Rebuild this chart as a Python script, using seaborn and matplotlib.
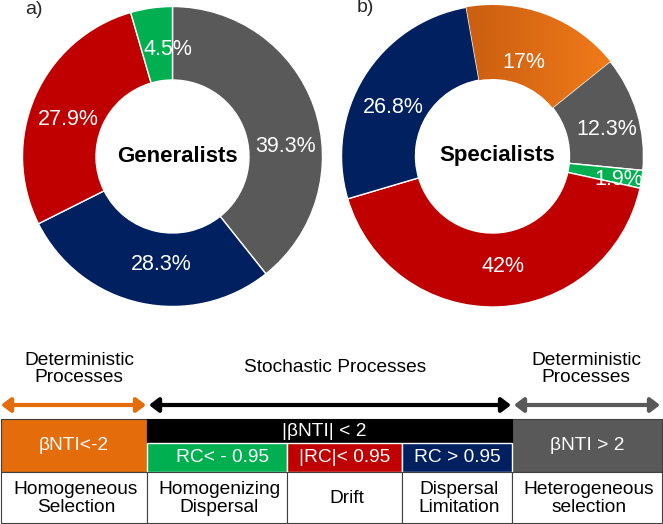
import matplotlib
matplotlib.use('Agg')
import numpy as np
import matplotlib.pyplot as plt
import seaborn as sns
from matplotlib.patches import Rectangle, FancyArrowPatch
from matplotlib.colors import LinearSegmentedColormap

# Données
processes = ['Homogeneous Selection', 'Homogenizing Dispersal', 'Drift',
             'Dispersal Limitation', 'Heterogeneous selection']
process_labels = ['Homogeneous\nSelection', 'Homogenizing\nDispersal', 'Drift',
                  'Dispersal\nLimitation', 'Heterogeneous\nselection']
criteria = ['βNTI<-2', 'RC< - 0.95', '|RC|< 0.95', 'RC > 0.95', 'βNTI > 2']
group_labels = ['Deterministic\nProcesses', 'Stochastic Processes', 'Deterministic\nProcesses']
stochastic_label = '|βNTI| < 2'

gen_names = ['Heterogeneous selection', 'Dispersal Limitation', 'Drift', 'Homogenizing Dispersal']
gen_values = [39.3, 28.3, 27.9, 4.5]
spe_names = ['Homogeneous Selection', 'Heterogeneous selection', 'Homogenizing Dispersal',
             'Drift', 'Dispersal Limitation']
spe_values = [17, 12.3, 1.9, 42, 26.8]

palette = sns.color_palette(['#E46C0A', '#00B050', '#C00000', '#002060', '#595959'])
color_map = dict(zip(processes, palette))

sns.set_theme(style='white')
plt.rcParams['font.family'] = ['Liberation Sans', 'DejaVu Sans']

W, H = 663, 524
fig = plt.figure(figsize=(W / 100, H / 100), dpi=100)

# ----- schéma du bas (coordonnées en pixels) -----
axd = fig.add_axes([0, 0, 1, 1])
axd.set_xlim(0, W)
axd.set_ylim(H, 0)
axd.axis('off')

xs = [1, 147, 287, 402, 512, 662]
y_top, y_mid, y_row2, y_bot = 419, 443, 472, 523

# cases du haut
axd.add_patch(Rectangle((xs[0], y_top), xs[1] - xs[0], y_row2 - y_top,
                        facecolor=palette[0], edgecolor='#404040', lw=0.8))
axd.add_patch(Rectangle((xs[4], y_top), xs[5] - xs[4], y_row2 - y_top,
                        facecolor=palette[4], edgecolor='#404040', lw=0.8))
axd.add_patch(Rectangle((xs[1], y_top), xs[4] - xs[1], y_mid - y_top,
                        facecolor='black', edgecolor='black', lw=0.8))
for i in (1, 2, 3):
    axd.add_patch(Rectangle((xs[i], y_mid), xs[i + 1] - xs[i], y_row2 - y_mid,
                            facecolor=palette[i], edgecolor='white', lw=1))

txt = dict(ha='center', va='center', fontsize=13.8)
axd.text((xs[0] + xs[1]) / 2, 446, criteria[0], color='white', **txt)
axd.text((xs[4] + xs[5]) / 2, 446, criteria[4], color='white', **txt)
axd.text((xs[1] + xs[4]) / 2 - 5, 431, stochastic_label, color='white', **txt)
for i in (1, 2, 3):
    axd.text((xs[i] + xs[i + 1]) / 2 + (6 if i == 1 else 0), 458, criteria[i], color='white', **txt)

# cases du bas
for i, lab in enumerate(process_labels):
    axd.add_patch(Rectangle((xs[i], y_row2), xs[i + 1] - xs[i], y_bot - y_row2,
                            facecolor='white', edgecolor='#404040', lw=0.8))
    axd.text((xs[i] + xs[i + 1]) / 2 + 2, (y_row2 + y_bot) / 2 + 1, lab, color='black',
             linespacing=1.0, **txt)

# flèches
arrow_y = 405
arrows = [(1, 146, palette[0]), (149, 511, 'black'), (514, 660, palette[4])]
for x0, x1, c in arrows:
    axd.add_patch(FancyArrowPatch((x0, arrow_y), (x1, arrow_y),
                                  arrowstyle='<|-|>,head_length=0.55,head_width=0.42',
                                  mutation_scale=10, lw=3, color=c,
                                  shrinkA=0, shrinkB=0))

axd.text(79, 369, group_labels[0], linespacing=0.95, color='black', **txt)
axd.text(335, 367, group_labels[1], color='black', **txt)
axd.text(586, 369, group_labels[2], linespacing=0.95, color='black', **txt)


# ----- donuts -----
def donut(cx, cy, r, names, values, start, title, nudges):
    ax = fig.add_axes([(cx - r) / W, (H - cy - r) / H, 2 * r / W, 2 * r / H])
    colors = [color_map[n] for n in names]
    wedges, _ = ax.pie(values, colors=colors, startangle=start, counterclock=False,
                       radius=1, wedgeprops=dict(width=0.49, edgecolor='white', linewidth=1))
    for w, n, v, (dang, rad) in zip(wedges, names, values, nudges):
        if n == 'Homogeneous Selection':
            # dégradé orange comme dans la figure d'origine
            cmap = LinearSegmentedColormap.from_list('orange', ['#C55A10', '#F67E1A'])
            im = ax.imshow(np.linspace(0, 1, 256).reshape(1, -1), cmap=cmap,
                           extent=(-0.3, 0.9, 0, 1.02), aspect='auto', zorder=w.get_zorder() + 0.1)
            im.set_clip_path(w)
        ang = np.deg2rad((w.theta1 + w.theta2) / 2 + dang)
        ax.text(rad * np.cos(ang), rad * np.sin(ang), f'{v:g}%', color='white',
                ha='center', va='center', fontsize=15.5, zorder=5)
    ax.text(0.03, 0, title, ha='center', va='center', fontsize=16, fontweight='bold', color='black')
    ax.set_xlim(-1, 1)
    ax.set_ylim(-1, 1)
    ax.set_aspect('equal')
    ax.axis('off')
    return ax


donut(172.5, 156.5, 150, gen_names, gen_values, 90, 'Generalists',
      [(-14.2, 0.756), (6.6, 0.724), (4, 0.736), (-5.4, 0.713)])
donut(492.5, 156, 151, spe_names, spe_values, 100, 'Specialists',
      [(2.2, 0.65), (-3.8, 0.775), (-1.8, 0.854), (3.6, 0.735), (5.8, 0.73)])

fig.text(25 / W, 1 - 9 / H, 'a)', ha='left', va='center', fontsize=14)
fig.text(357 / W, 1 - 8 / H, 'b)', ha='left', va='center', fontsize=14)

fig.savefig('out.png', dpi=100)
